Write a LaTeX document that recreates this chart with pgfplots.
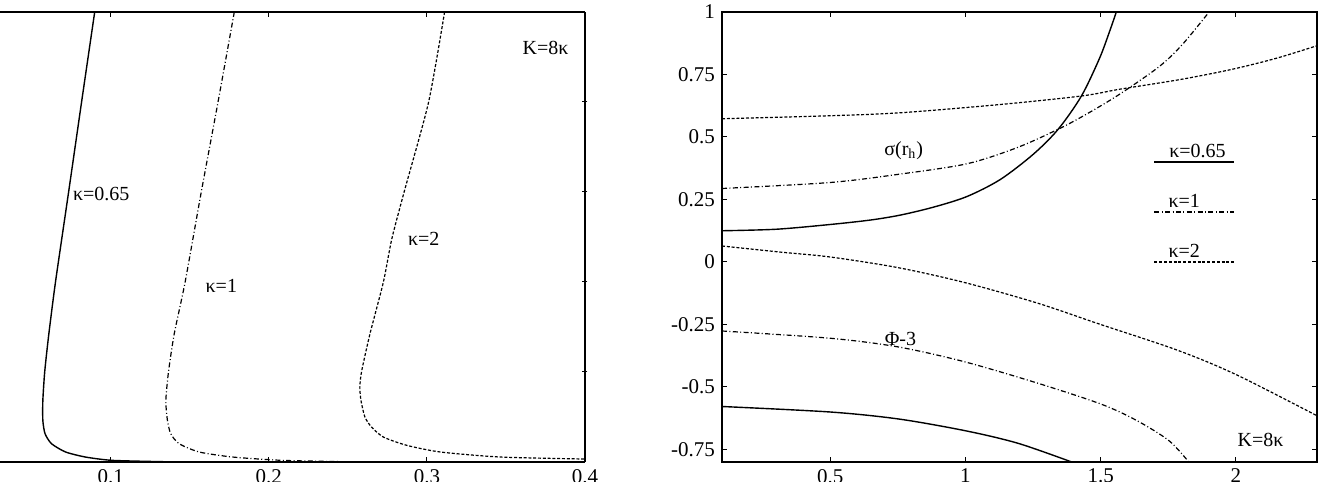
\documentclass[border=0pt]{standalone}
\usepackage{fontspec}
\setmainfont{Liberation Serif}
\usepackage{pgfplots}
\pgfplotsset{compat=1.18}
\begin{document}
\begin{tikzpicture}
\pgfplotsset{
  every axis/.append style={
    scale only axis,
    /pgf/number format/assume math mode=true,
    tick style={black, line width=0.5pt},
    major tick length=2.5pt,
    axis line style={black, line width=0.8pt},
    tick label style={font=\fontsize{10.5}{12}\selectfont},
    clip=true,
  },
  k065/.style={black, line width=0.7pt},
  k1/.style={black, line width=0.6pt, dash pattern=on 2.5pt off 1.2pt on 0.5pt off 1.2pt},
  k2/.style={black, line width=0.6pt, dash pattern=on 1.5pt off 0.9pt},
}
% ---------- left panel ----------
\begin{axis}[
  at={(0pt,10pt)}, anchor=south west,
  width=292.5pt, height=225pt,
  xmin=0.03, xmax=0.4, ymin=0, ymax=5,
  axis x line=box, axis y line=right,
  axis line style={-},
  xtick={0.1,0.2,0.3,0.4},
  ytick={1,2,3,4}, yticklabels={},
  xticklabel style={/pgf/number format/fixed},
]
\addplot[k065, smooth, tension=0.4] coordinates {
(0.0899,5.0) (0.0816,4.0) (0.0734,3.0) (0.0651,2.0) (0.0609,1.424) (0.0583,1.006)
(0.0571,0.684) (0.0571,0.462) (0.0585,0.314) (0.0626,0.203) (0.0715,0.111)
(0.0841,0.055) (0.1011,0.018) (0.134,0.003)};
\addplot[k1, smooth, tension=0.4] coordinates {
(0.1782,5.0) (0.1679,4.0) (0.1573,3.0) (0.1471,2.0) (0.1402,1.424) (0.1366,1.006)
(0.1349,0.684) (0.1359,0.462) (0.1380,0.314) (0.1433,0.203) (0.1560,0.111)
(0.1772,0.055) (0.2089,0.018) (0.2534,0.002)};
\addplot[k2, smooth, tension=0.4] coordinates {
(0.3112,5.0) (0.3011,4.0) (0.2856,3.0) (0.2778,2.478) (0.2725,2.0) (0.2640,1.424)
(0.2587,1.006) (0.2576,0.832) (0.2583,0.684) (0.2608,0.499) (0.2650,0.388)
(0.2725,0.277) (0.2873,0.185) (0.3085,0.111) (0.3466,0.055) (0.4,0.033)};
\node at (axis cs:0.094,2.98) {κ=0.65};
\node at (axis cs:0.170,1.96) {κ=1};
\node at (axis cs:0.298,2.48) {κ=2};
\node at (axis cs:0.375,4.60) {K=8κ};
\end{axis}
% ---------- right panel ----------
\begin{axis}[
  at={(361pt,10pt)}, anchor=south west,
  width=297.5pt, height=225pt,
  xmin=0.1, xmax=2.3, ymin=-0.8, ymax=1,
  xtick={0.5,1,1.5,2},
  ytick={-0.75,-0.5,-0.25,0,0.25,0.5,0.75,1},
  yticklabel style={/pgf/number format/fixed},
]
% sigma(r_h)
\addplot[k065, smooth] coordinates {
(0.1,0.125) (0.3,0.131) (0.5,0.150) (0.65,0.168) (0.761,0.188) (0.884,0.220)
(1.006,0.262) (1.129,0.330) (1.251,0.431) (1.343,0.531) (1.429,0.664) (1.496,0.815)
(1.533,0.922) (1.558,1.0)};
\addplot[k1, smooth] coordinates {
(0.1,0.294) (0.5,0.318) (0.761,0.352) (1.006,0.393) (1.19,0.457) (1.343,0.531)
(1.447,0.591) (1.57,0.671) (1.717,0.782) (1.803,0.871) (1.901,1.0)};
\addplot[k2, smooth] coordinates {
(0.1,0.573) (0.5,0.585) (0.761,0.597) (1.129,0.630) (1.429,0.664)
(1.57,0.691) (1.8,0.731) (1.987,0.771) (2.15,0.815) (2.3,0.865)};
% Phi-3
\addplot[k2, smooth] coordinates {
(0.1,0.064) (0.312,0.040) (0.5,0.020) (0.753,-0.023) (1.0,-0.083) (1.268,-0.165)
(1.5,-0.250) (1.782,-0.352) (2.0,-0.45) (2.3,-0.615)};
\addplot[k1, smooth] coordinates {
(0.1,-0.276) (0.5,-0.305) (0.753,-0.340) (1.0,-0.400) (1.268,-0.485) (1.503,-0.569)
(1.635,-0.635) (1.753,-0.715) (1.826,-0.8)};
\addplot[k065, smooth] coordinates {
(0.1,-0.578) (0.5,-0.600) (0.753,-0.628) (1.0,-0.675) (1.194,-0.725) (1.393,-0.8)};
% legend lines
\addplot[k065] coordinates {(1.699,0.40) (1.993,0.40)};
\addplot[k1] coordinates {(1.699,0.20) (1.993,0.20)};
\addplot[k2] coordinates {(1.699,0.0) (1.993,0.0)};
\node at (axis cs:1.858,0.446) {κ=0.65};
\node at (axis cs:1.809,0.246) {κ=1};
\node at (axis cs:1.809,0.046) {κ=2};
\node at (axis cs:0.772,0.447) {σ(r\textsubscript{h})};
\node at (axis cs:0.760,-0.309) {Φ-3};
\node at (axis cs:2.091,-0.712) {K=8κ};
\end{axis}
\pgfresetboundingbox
\useasboundingbox (0pt,0pt) rectangle (662pt,241pt);
\end{tikzpicture}
\end{document}
